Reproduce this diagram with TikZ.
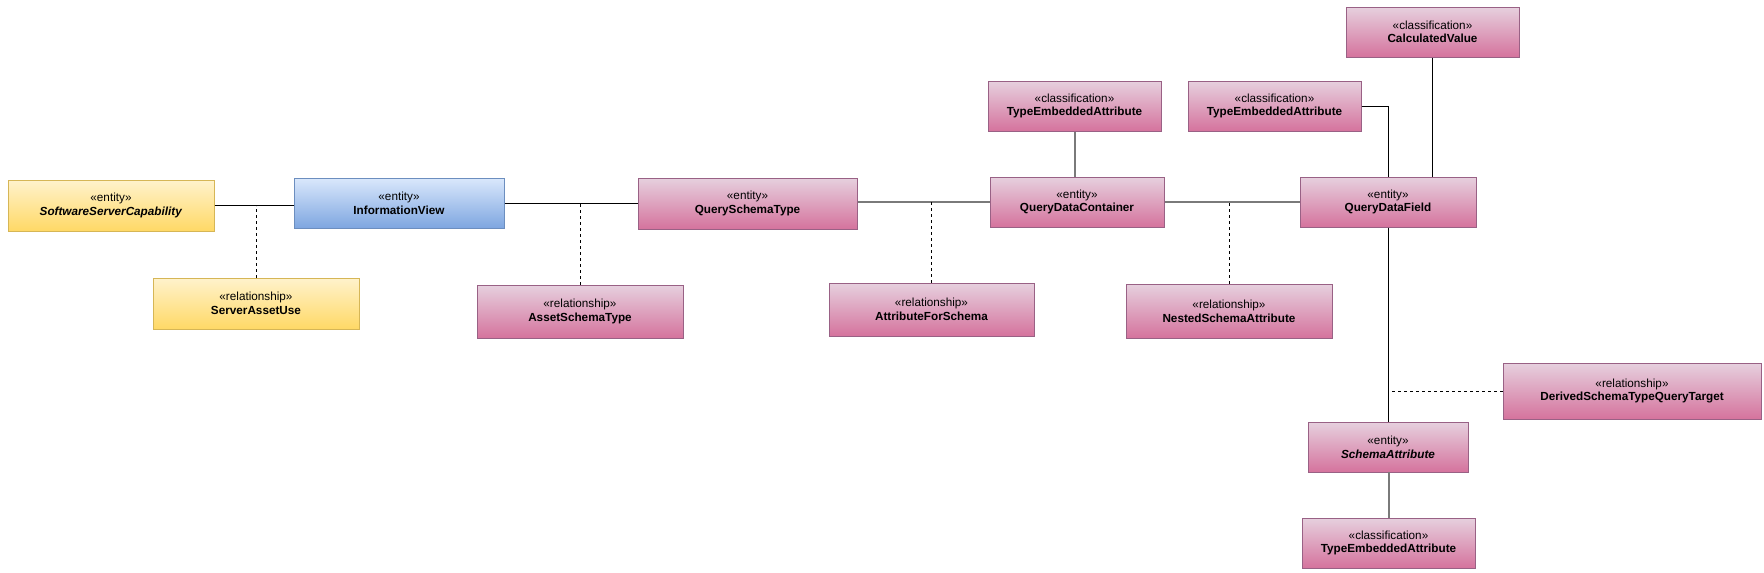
\documentclass[tikz,border=0pt]{standalone}
\usepackage{fontspec}
\setmainfont{Liberation Sans}
\definecolor{pinkT}{HTML}{E6D0DE}
\definecolor{pinkB}{HTML}{D5739D}
\definecolor{pinkS}{HTML}{996185}
\definecolor{yelT}{HTML}{FFF2CC}
\definecolor{yelB}{HTML}{FFD966}
\definecolor{yelS}{HTML}{D6B656}
\definecolor{bluT}{HTML}{DAE8FC}
\definecolor{bluB}{HTML}{7EA6E0}
\definecolor{bluS}{HTML}{6C8EBF}
\definecolor{lineGray}{HTML}{7A7A7A}
\begin{document}
\begin{tikzpicture}[x=0.75pt,y=-0.75pt,
  box/.style 2 args={draw, rectangle, inner sep=0pt, align=center,
    font=\fontsize{8.8}{10.2}\selectfont, line width=0.75pt,
    minimum width=#1*0.75pt, minimum height=#2*0.75pt},
  pinkbox/.style={top color=pinkT, bottom color=pinkB, draw=pinkS},
  yelbox/.style={top color=yelT, bottom color=yelB, draw=yelS},
  blubox/.style={top color=bluT, bottom color=bluB, draw=bluS},
  conn/.style={draw=black, line width=0.75pt},
  gconn/.style={draw=lineGray, line width=1.5pt},
  rel/.style={draw=black, line width=0.75pt, dash pattern=on 2.25pt off 2.25pt}
]
\useasboundingbox (0,0) rectangle (1764,572);

\node[box={206}{51}, yelbox] (ssc) at (111,205.5) {«entity»\\\textbf{\textit{SoftwareServerCapability}}};
\node[box={210}{50}, blubox] (iv) at (399,203) {«entity»\\\textbf{InformationView}};
\node[box={206}{51}, yelbox] (sau) at (256,303.5) {«relationship»\\\textbf{ServerAssetUse}};
\node[box={219}{51}, pinkbox] (qst) at (747.5,203.5) {«entity»\\\textbf{QuerySchemaType}};
\node[box={206}{53}, pinkbox] (ast) at (580,311.5) {«relationship»\\\textbf{AssetSchemaType}};
\node[box={205}{53}, pinkbox] (afs) at (931.5,309.5) {«relationship»\\\textbf{AttributeForSchema}};
\node[box={174}{50}, pinkbox] (qdc) at (1077,202) {«entity»\\\textbf{QueryDataContainer}};
\node[box={173}{50}, pinkbox] (tea1) at (1074.5,106) {«classification»\\\textbf{TypeEmbeddedAttribute}};
\node[box={173}{50}, pinkbox] (tea2) at (1274.5,106) {«classification»\\\textbf{TypeEmbeddedAttribute}};
\node[box={173}{50}, pinkbox] (cv) at (1432.5,32) {«classification»\\\textbf{CalculatedValue}};
\node[box={176}{50}, pinkbox] (qdf) at (1388,202) {«entity»\\\textbf{QueryDataField}};
\node[box={206}{54}, pinkbox] (nsa) at (1229,311) {«relationship»\\\textbf{NestedSchemaAttribute}};
\node[box={258}{56}, pinkbox] (dst) at (1632,391) {«relationship»\\\textbf{DerivedSchemaTypeQueryTarget}};
\node[box={160}{50}, pinkbox] (sa) at (1388,447) {«entity»\\\textbf{\textit{SchemaAttribute}}};
\node[box={173}{50}, pinkbox] (tea3) at (1388.5,543) {«classification»\\\textbf{TypeEmbeddedAttribute}};

% connectors
\draw[conn] (ssc.east) -- (ssc.east -| iv.west);
\draw[rel] (sau.north) -- (sau.north |- ssc.east);

\draw[conn] (iv.east) -- (iv.east -| qst.west);
\draw[rel] (ast.north) -- (ast.north |- iv.east);

\draw[gconn] (qdc.west -| qst.east) -- (qdc.west);
\draw[rel] (afs.north) -- (afs.north |- qdc.west);

\draw[gconn] (qdc.east) -- (qdf.west);
\draw[rel] (nsa.north) -- (nsa.north |- qdc.east);

\draw[gconn] (tea1.south) -- (tea1.south |- qdc.north);
\draw[conn] (tea2.east) -| (qdf.north);
\draw[conn] (cv.south) -- (cv.south |- qdf.north);

\draw[conn] (qdf.south) -- (sa.north);
\draw[rel] (dst.west) -- (dst.west -| qdf.south);
\draw[gconn] (sa.south) -- (sa.south -| tea3.north) -- (tea3.north);
\end{tikzpicture}
\end{document}
